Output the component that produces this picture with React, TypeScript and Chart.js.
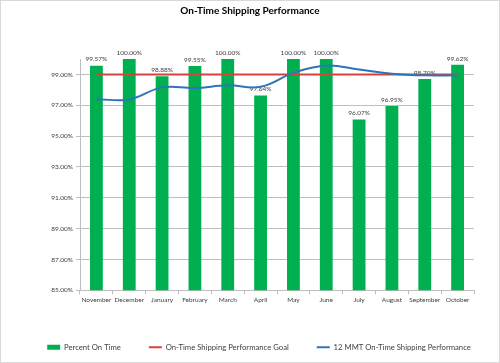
import React, { useEffect, useRef } from "react";
import { Chart, registerables } from "chart.js";

Chart.register(...registerables);

const months = ["November", "December", "January", "February", "March", "April", "May", "June", "July", "August", "September", "October"];
const percentOnTime = [99.57, 100, 98.88, 99.55, 100, 97.64, 100, 100, 96.07, 96.95, 98.7, 99.62];
const goal = [99, 99, 99, 99, 99, 99, 99, 99, 99, 99, 99, 99];
const mmt = [97.39, 97.38, 98.16, 98.12, 98.29, 98.2, 99.1, 99.58, 99.32, 99.05, 98.94, 98.94];
const yTicks = [85, 87, 89, 91, 93, 95, 97, 99];

const FONT = "Lato, 'Open Sans', sans-serif";

const barLabels = {
  id: "barLabels",
  afterLayout(chart: any) {
    if (chart.legend) {
      chart.legend.left += 9;
      chart.legend.right += 9;
    }
  },
  afterDatasetDraw(chart: any, args: any) {
    const meta = args.meta;
    if (meta.type !== "bar") return;
    const ctx = chart.ctx;
    ctx.save();
    ctx.font = `6.5px ${FONT}`;
    ctx.fillStyle = "#404040";
    ctx.textAlign = "center";
    ctx.textBaseline = "bottom";
    meta.data.forEach((el: any, i: number) => {
      const v = chart.data.datasets[args.index].data[i];
      ctx.fillText(v.toFixed(2) + "%", el.x, el.y - 3);
    });
    ctx.restore();
  },
};

export default function App() {
  const ref = useRef<HTMLCanvasElement>(null);
  useEffect(() => {
    if (!ref.current) return;
    const chart = new Chart(ref.current, {
      type: "bar",
      data: {
        labels: months,
        datasets: [
          {
            type: "bar",
            label: "Percent On Time",
            data: percentOnTime,
            backgroundColor: "#00b050",
            borderWidth: 0,
            barPercentage: 0.39,
            categoryPercentage: 1,
            order: 3,
            pointStyle: "rect",
          } as any,
          {
            type: "line",
            label: "On-Time Shipping Performance Goal",
            data: goal,
            borderColor: "#d8423c",
            backgroundColor: "#d8423c",
            borderWidth: 2,
            pointRadius: 0,
            pointStyle: "line",
            order: 1,
          },
          {
            type: "line",
            label: "12 MMT On-Time Shipping Performance",
            data: mmt,
            borderColor: "#2e75b6",
            backgroundColor: "#2e75b6",
            borderWidth: 2,
            pointRadius: 0,
            pointStyle: "line",
            tension: 0.4,
            order: 0,
          },
        ],
      },
      options: {
        responsive: false,
        animation: false,
        layout: { padding: { left: 0, right: 0, top: 0, bottom: 1 } },
        plugins: {
          title: {
            display: true,
            text: "On-Time Shipping Performance",
            font: { family: FONT, size: 10, weight: "bold" },
            color: "#000",
            padding: { top: 4, bottom: 42 },
          },
          legend: {
            position: "bottom",
            labels: {
              usePointStyle: true,
              pointStyleWidth: 13,
              boxHeight: 5,
              font: { family: FONT, size: 7.7 },
              color: "#404040",
              padding: 28,
              sort: (a: any, b: any) => a.datasetIndex - b.datasetIndex,
            },
          },
          tooltip: { enabled: false },
        },
        scales: {
          x: {
            grid: { display: true, drawOnChartArea: false, offset: true, tickLength: 4, color: "#bfbfbf" },
            border: { color: "#bfbfbf" },
            ticks: { font: { family: FONT, size: 6.5 }, color: "#404040", maxRotation: 0, autoSkip: false, padding: 2 },
            afterFit: (s: any) => {
              s.height = 25;
            },
          },
          y: {
            min: 85,
            max: 100,
            afterBuildTicks: (s: any) => {
              s.ticks = yTicks.map((v) => ({ value: v }));
            },
            afterFit: (s: any) => {
              s.width = 79;
            },
            grid: { color: "#bfbfbf", tickLength: 4 },
            border: { color: "#bfbfbf" },
            ticks: {
              font: { family: FONT, size: 6.5 },
              color: "#404040",
              padding: 3,
              callback: (v: any) => Number(v).toFixed(2) + "%",
            },
          },
          yRight: {
            position: "right",
            display: true,
            min: 85,
            max: 100,
            grid: { display: false },
            border: { display: false },
            ticks: { display: false },
            afterFit: (s: any) => {
              s.width = 25;
            },
          },
        },
      } as any,
      plugins: [barLabels],
    });
    return () => chart.destroy();
  }, []);
  return (
    <div
      style={{
        position: "absolute",
        left: 0,
        top: 0,
        width: 500,
        height: 363,
        border: "1px solid #d9d9d9",
        boxSizing: "border-box",
        background: "#fff",
      }}
    >
      <canvas ref={ref} width={498} height={361} style={{ display: "block" }} />
    </div>
  );
}
